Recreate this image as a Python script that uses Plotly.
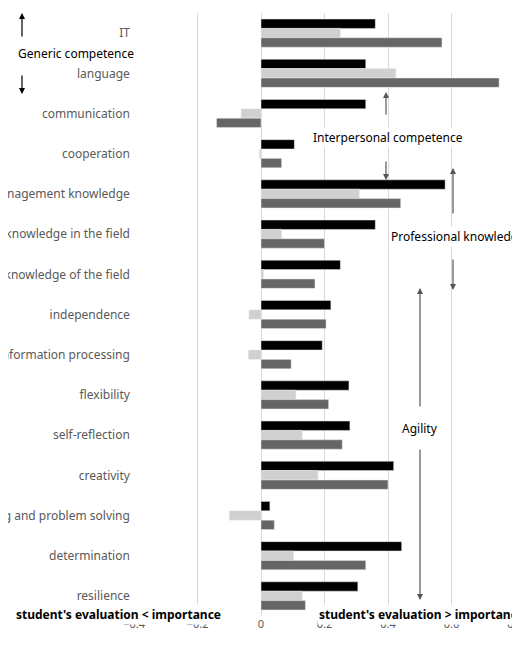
import plotly.graph_objects as go

categories = ["IT", "language", "communication", "cooperation",
              "organisational and management knowledge",
              "theoretical knowledge in the field",
              "practical knowledge of the field", "independence",
              "information processing", "flexibility", "self-reflection",
              "creativity", "critical thinking and problem solving",
              "determination", "resilience"]
e_learning = [0.36, 0.33, 0.33, 0.105, 0.58, 0.36, 0.25, 0.22, 0.193, 0.277,
              0.28, 0.418, 0.028, 0.443, 0.305]
full_time = [0.25, 0.425, -0.063, -0.005, 0.31, 0.065, 0.008, -0.038, -0.04,
             0.11, 0.13, 0.18, -0.1, 0.103, 0.13]
part_time = [0.57, 0.75, -0.14, 0.065, 0.44, 0.2, 0.17, 0.205, 0.095, 0.213,
             0.256, 0.4, 0.042, 0.33, 0.14]

W, H = 520, 664
L, R, T, B = 126, 13, 5, 56  # plot area: x 126..507, y 5..608
pw, ph = W - L - R, H - T - B


def px(x):
    return (x - L) / pw


def py(y):
    return (H - B - y) / ph


fig = go.Figure()
for name, vals, col in [("e-learning", e_learning, "#000000"),
                        ("full time", full_time, "#d0d0d0"),
                        ("part time", part_time, "#666666")]:
    fig.add_trace(go.Bar(y=categories, x=vals, name=name, orientation="h",
                         marker=dict(color=col)))

# text labels
texts = [
    ("Generic competence", 8, 45, "left", False),
    ("Interpersonal competence", 380, 130, "center", False),
    ("Professional knowledge", 450, 229, "center", False),
    ("Agility", 412, 420, "center", False),
    ("student's evaluation < importance", 6, 606, "left", True),
    ("student's evaluation > importance", 518, 606, "right", True),
]
for t, x, y, anc, bold in texts:
    fig.add_annotation(text=f"<b>{t}</b>" if bold else t, x=px(x), y=py(y),
                       xref="paper", yref="paper", showarrow=False,
                       xanchor=anc, yanchor="middle", bgcolor="white",
                       font=dict(size=12, color="black"))

# arrows: (x, tail y, head y, color)
arrows = [
    (14, 30, 5, "black"), (14, 66, 86, "black"),
    (378, 108, 84, "#555555"), (378, 152, 172, "#555555"),
    (445, 207, 160, "#555555"), (445, 250, 282, "#555555"),
    (412, 400, 280, "#555555"), (412, 440, 592, "#555555"),
]
for x, y0, y1, col in arrows:
    fig.add_annotation(x=px(x), y=py(y1), xref="paper", yref="paper",
                       ax=0, ay=y0 - y1, showarrow=True, arrowhead=2,
                       arrowsize=1, arrowwidth=1.2, arrowcolor=col, text="")

fig.update_layout(
    width=W, height=H, barmode="group", bargap=0.3, bargroupgap=0,
    plot_bgcolor="white", paper_bgcolor="white",
    margin=dict(l=L, r=R, t=T, b=B, autoexpand=False),
    font=dict(family="Liberation Sans Narrow, Noto Sans, sans-serif", size=12,
              color="#595959"),
    xaxis=dict(range=[-0.4, 0.8], tickvals=[-0.4, -0.2, 0, 0.2, 0.4, 0.6, 0.8],
               ticktext=["\u22120.4", "\u22120.2", "0", "0.2", "0.4", "0.6", "0.8"],
               showgrid=True, gridcolor="#d9d9d9", zeroline=False,
               tickfont=dict(size=11), ticks="", automargin=False),
    yaxis=dict(autorange="reversed", showgrid=False, ticks="", automargin=False,
               tickfont=dict(size=12, family="Noto Sans"), ticksuffix=" "),
    legend=dict(orientation="h", x=0.37, xanchor="center", y=-0.07,
                yanchor="top", font=dict(size=10), traceorder="normal",
                entrywidth=70),
)
fig.write_html("out.html")
